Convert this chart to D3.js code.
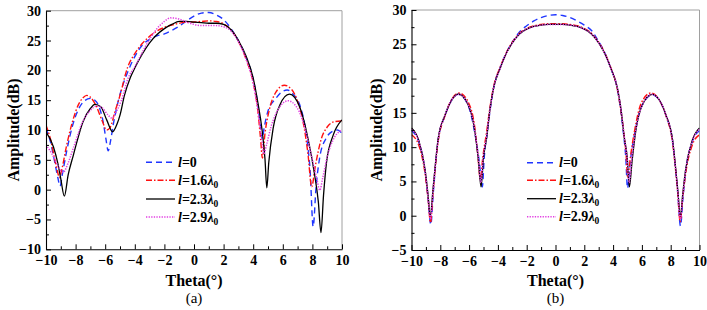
<!DOCTYPE html>
<html>
<head>
<meta charset="utf-8">
<script src="https://cdn.jsdelivr.net/npm/d3@7"></script>
<style>
  html, body { margin: 0; padding: 0; background: #fff; }
  svg { display: block; }
  svg text { font-family: "Liberation Serif", "DejaVu Serif", serif !important; }
</style>
</head>
<body>
<svg id="chart" width="707" height="310"></svg>
<script>
// ---------------- DATA ----------------
const thetaTicks = [-10, -8, -6, -4, -2, 0, 2, 4, 6, 8, 10];
const thetaMinor = [-9, -7, -5, -3, -1, 1, 3, 5, 7, 9];
const ampTicksA = [-10, -5, 0, 5, 10, 15, 20, 25, 30];
const ampMinorA = [-7.5, -2.5, 2.5, 7.5, 12.5, 17.5, 22.5, 27.5];
const ampTicksB = [-5, 0, 5, 10, 15, 20, 25, 30];
const ampMinorB = [-2.5, 2.5, 7.5, 12.5, 17.5, 22.5, 27.5];

const legendLabels = [
  { l: "l", rest: "=0", lam: false },
  { l: "l", rest: "=1.6", lam: true },
  { l: "l", rest: "=2.3", lam: true },
  { l: "l", rest: "=2.9", lam: true }
];

// Panel (a): [theta (deg), amplitude (dB)]
const a_l0 = [[-10,10.3],[-9.7,8],[-9.4,4.5],[-9.2,2],[-9.05,0.6],[-8.9,2.5],[-8.6,6.5],[-8.2,10.8],[-7.8,13.5],[-7.4,14.9],[-7.0,15.3],[-6.7,15.0],[-6.4,13.8],[-6.15,11.5],[-5.95,8.5],[-5.8,6.5],[-5.65,8],[-5.45,11],[-5.2,14],[-4.9,16.8],[-4.5,19.6],[-4.0,22.3],[-3.5,24.2],[-3.0,25.2],[-2.5,25.8],[-2.0,26.1],[-1.5,26.7],[-1.0,27.4],[-0.5,28.3],[0,29.1],[0.5,29.6],[1.0,29.7],[1.5,29.3],[2.0,28.5],[2.5,27.0],[3.0,25.0],[3.5,22.3],[4.0,18.5],[4.3,14.5],[4.5,10.5],[4.6,8.5],[4.75,10.5],[5.0,13.2],[5.5,15.2],[6.0,16.5],[6.3,16.7],[6.7,16.0],[7.2,13.8],[7.6,9.0],[7.85,3],[8.05,-6.2],[8.25,0.5],[8.5,5.5],[8.9,8.5],[9.3,9.7],[9.7,10.0],[10,9.4]];
const a_l16 = [[-10,10.8],[-9.7,8.5],[-9.4,5],[-9.2,2.8],[-9.1,2],[-8.95,3.2],[-8.6,7.5],[-8.2,11.5],[-7.8,14.3],[-7.5,15.4],[-7.25,15.8],[-7.0,15.5],[-6.6,14.0],[-6.2,11.5],[-5.9,10.0],[-5.65,10.5],[-5.35,13],[-5.0,15.8],[-4.5,20.4],[-4.0,22.8],[-3.5,24.5],[-3.0,25.7],[-2.5,26.6],[-2.0,27.2],[-1.5,27.6],[-1.0,27.9],[-0.5,28.1],[0,28.1],[0.5,28.2],[1.0,28.3],[1.5,28.2],[2.0,27.8],[2.5,26.8],[3.0,24.9],[3.5,22.0],[4.0,18.0],[4.3,13.5],[4.5,8.5],[4.62,5.3],[4.8,9.5],[5.1,13.5],[5.5,16.2],[6.1,17.5],[6.6,16.8],[7.0,14.8],[7.4,11],[7.7,6],[7.95,0.5],[8.2,4],[8.6,8.5],[9.0,10.5],[9.5,11.4],[10,11.5]];
const a_l23 = [[-10,9.7],[-9.5,7.2],[-9.2,4.4],[-9.0,1.8],[-8.76,-1.1],[-8.5,2.5],[-8.15,5.8],[-8.0,7.2],[-7.5,11.4],[-7.0,13.6],[-6.7,14.3],[-6.3,13.9],[-5.9,11.7],[-5.5,9.7],[-5.2,11],[-5.0,12.5],[-4.7,15.8],[-4.3,18.8],[-4.0,20.4],[-3.5,22.7],[-3.0,24.6],[-2.5,26.0],[-2.0,27.0],[-1.5,27.7],[-1.0,28.2],[-0.5,28.2],[0,28.1],[0.5,28.0],[1.0,27.9],[1.5,27.9],[2.0,27.7],[2.5,26.8],[3.0,25.0],[3.5,22.5],[4.0,18.7],[4.3,14.8],[4.6,10],[4.8,5],[4.92,0.3],[5.05,4.5],[5.35,10.3],[5.8,14.2],[6.45,16.0],[7.15,13.8],[7.7,8.6],[8.15,2.5],[8.4,-2],[8.58,-7.2],[8.75,-1],[8.95,4.5],[9.4,9.1],[10,11.7]];
const a_l29 = [[-10,7.5],[-9.6,6.0],[-9.2,4.0],[-8.85,2.9],[-8.5,4.5],[-8.15,7.0],[-7.5,11.5],[-7.0,13.3],[-6.6,14.0],[-6.25,13.8],[-5.8,12.5],[-5.55,12.0],[-5.2,13.3],[-4.9,15.0],[-4.45,18.7],[-4.0,20.6],[-3.5,23.0],[-3.0,25.2],[-2.5,27.0],[-2.0,28.2],[-1.6,28.8],[-1.0,28.6],[-0.5,28.1],[0,27.7],[0.5,27.5],[1.0,27.5],[1.5,27.5],[2.0,27.3],[2.5,26.6],[3.0,24.8],[3.5,22.0],[4.0,17.8],[4.3,13.5],[4.55,9],[4.72,6.0],[4.9,7.5],[5.2,10.5],[5.7,13.5],[6.35,14.9],[7.0,13.6],[7.5,10.3],[8.0,5.0],[8.3,1.8],[8.5,-0.1],[8.7,2],[9.0,5.5],[9.5,8.8],[10,10.0]];

// Panel (b)
const b_l0 = [[-10,12.4],[-9.5,10.8],[-9.05,6.3],[-8.85,2.5],[-8.66,-1.3],[-8.48,3.5],[-8.15,11.0],[-7.67,14.6],[-7.2,16.9],[-6.74,17.7],[-6.05,16.0],[-5.6,12.0],[-5.3,8.0],[-5.08,4.2],[-4.95,8.5],[-4.75,12],[-4.5,16],[-4.3,18.6],[-3.84,21.6],[-3.5,23.4],[-3.0,25.3],[-2.5,26.8],[-2.0,27.7],[-1.5,28.4],[-1.0,28.9],[-0.5,29.2],[0,29.3],[0.5,29.2],[1.0,28.9],[1.5,28.4],[2.0,27.8],[2.5,27.0],[3.0,25.4],[3.5,23.4],[3.84,21.5],[4.3,18.4],[4.5,15.8],[4.72,12],[4.88,8.5],[5.0,4.0],[5.2,8],[5.5,12],[5.95,15.8],[6.71,17.6],[7.2,16.9],[7.67,14.6],[8.12,11.0],[8.48,3.5],[8.68,-1.5],[8.85,2.5],[9.03,6.3],[9.5,10.8],[10,12.4]];
const b_l16 = [[-10,11.8],[-9.5,10.3],[-9.05,6.0],[-8.85,2.5],[-8.68,-1.0],[-8.5,3.5],[-8.15,10.8],[-7.67,14.6],[-7.2,17.0],[-6.68,17.9],[-6.0,16.3],[-5.6,12.8],[-5.4,9.0],[-5.22,5.3],[-5.05,8.5],[-4.8,12],[-4.55,15.8],[-4.3,18.8],[-3.84,21.7],[-3.5,23.4],[-3.0,25.3],[-2.5,26.6],[-2.0,27.3],[-1.5,27.7],[-1.0,27.9],[-0.5,28.0],[0,28.0],[0.5,28.0],[1.0,27.9],[1.5,27.7],[2.0,27.3],[2.5,26.6],[3.0,25.3],[3.5,23.4],[3.84,21.6],[4.3,18.4],[4.55,15.2],[4.75,12],[4.9,9],[5.02,5.5],[5.2,8.5],[5.5,12.5],[5.95,16.4],[6.62,17.9],[7.2,16.9],[7.67,14.6],[8.12,10.8],[8.48,3.5],[8.66,-0.9],[8.83,2.5],[9.03,6.0],[9.5,10.3],[10,11.8]];
const b_l23 = [[-10,12.8],[-9.5,11.0],[-9.05,6.6],[-8.85,3],[-8.7,-0.1],[-8.5,4],[-8.15,11.2],[-7.67,14.7],[-7.2,16.9],[-6.74,17.75],[-6.05,16.1],[-5.6,12.3],[-5.35,8],[-5.17,4.2],[-5.0,8.5],[-4.77,11.5],[-4.55,15.5],[-4.3,18.6],[-3.84,21.5],[-3.5,23.3],[-3.0,25.2],[-2.5,26.5],[-2.0,27.2],[-1.5,27.6],[-1.0,27.8],[-0.5,27.9],[0,27.9],[0.5,27.9],[1.0,27.8],[1.5,27.6],[2.0,27.2],[2.5,26.5],[3.0,25.2],[3.5,23.3],[3.84,21.5],[4.3,18.6],[4.55,15.5],[4.77,11.5],[4.98,8.5],[5.13,4.2],[5.32,8],[5.57,12.3],[6.02,16.1],[6.71,17.7],[7.2,16.9],[7.67,14.7],[8.12,11.2],[8.48,4],[8.68,-0.1],[8.83,3],[9.03,6.6],[9.5,11.0],[10,12.8]];
const b_l29 = [[-10,12.6],[-9.5,10.9],[-9.05,6.5],[-8.85,2.8],[-8.69,-0.5],[-8.5,3.8],[-8.15,11.1],[-7.67,14.7],[-7.2,16.9],[-6.72,17.7],[-6.05,16.1],[-5.6,12.4],[-5.35,8.3],[-5.18,4.8],[-5.02,8.5],[-4.78,11.6],[-4.55,15.5],[-4.3,18.6],[-3.84,21.5],[-3.5,23.3],[-3.0,25.2],[-2.5,26.5],[-2.0,27.2],[-1.5,27.6],[-1.0,27.8],[-0.5,27.9],[0,27.9],[0.5,27.9],[1.0,27.8],[1.5,27.6],[2.0,27.2],[2.5,26.5],[3.0,25.2],[3.5,23.3],[3.84,21.5],[4.3,18.6],[4.55,15.5],[4.77,11.6],[4.97,8.5],[5.12,4.8],[5.3,8.3],[5.57,12.4],[6.02,16.1],[6.7,17.7],[7.2,16.9],[7.67,14.7],[8.12,11.1],[8.48,3.8],[8.67,-0.5],[8.83,2.8],[9.03,6.5],[9.5,10.9],[10,12.6]];

// ---------------- STYLES ----------------
const FONT = '"Liberation Serif", "DejaVu Serif", serif';
const seriesStyle = [
  { color: "#1f35ff", dash: "6,4", width: 1.4 },
  { color: "#ff1010", dash: "6,2,1.5,2", width: 1.4 },
  { color: "#000000", dash: null, width: 1.3 },
  { color: "#e23fe2", dash: "1.3,1.3", width: 1.5 }
];

const svg = d3.select("#chart");
svg.append("rect").attr("width", 707).attr("height", 310).attr("fill", "#fff");

function drawPanel(cfg) {
  const x = d3.scaleLinear().domain([-10, 10]).range([cfg.left, cfg.right]);
  const y = d3.scaleLinear().domain(cfg.yDomain).range([cfg.bottom, cfg.top]);
  const g = svg.append("g").attr("font-family", FONT);

  g.append("path")
    .attr("d", `M${cfg.left},${cfg.top}H${cfg.right}V${cfg.bottom}`)
    .attr("fill", "none").attr("stroke", "#a0a0a0").attr("stroke-width", 1);

  const clipId = "clip" + cfg.name;
  svg.append("clipPath").attr("id", clipId).append("rect")
    .attr("x", cfg.left).attr("y", cfg.top - 2)
    .attr("width", cfg.right - cfg.left).attr("height", cfg.bottom - cfg.top + 2);
  const line = d3.line().x(d => x(d[0])).y(d => y(d[1])).curve(d3.curveMonotoneX);
  const cg = g.append("g").attr("clip-path", `url(#${clipId})`);
  cfg.series.forEach((s, i) => {
    const st = seriesStyle[i];
    cg.append("path").datum(s).attr("d", line)
      .attr("fill", "none").attr("stroke", st.color)
      .attr("stroke-width", st.width)
      .attr("stroke-dasharray", st.dash)
      .attr("stroke-linejoin", "round");
  });

  g.append("g").attr("transform", `translate(0,${cfg.bottom})`)
    .call(d3.axisBottom(x).tickValues(thetaTicks).tickSize(-5).tickSizeOuter(0).tickPadding(6).tickFormat(d3.format("d")));
  g.append("g").attr("transform", `translate(0,${cfg.bottom})`)
    .call(d3.axisBottom(x).tickValues(thetaMinor).tickSize(-3).tickSizeOuter(0).tickFormat(""))
    .select(".domain").remove();
  g.append("g").attr("transform", `translate(${cfg.left},0)`)
    .call(d3.axisLeft(y).tickValues(cfg.yTicks).tickSize(-5).tickSizeOuter(0).tickPadding(5).tickFormat(d3.format("d")));
  g.append("g").attr("transform", `translate(${cfg.left},0)`)
    .call(d3.axisLeft(y).tickValues(cfg.yMinor).tickSize(-3).tickSizeOuter(0).tickFormat(""))
    .select(".domain").remove();

  g.selectAll("g").attr("font-family", FONT);
  g.selectAll(".tick line").attr("stroke", "#000").attr("stroke-width", 1);
  g.selectAll(".domain").attr("stroke", "#000").attr("stroke-width", 1.1);
  g.selectAll(".tick text")
    .attr("font-family", FONT)
    .attr("font-weight", "bold").attr("font-size", 14).attr("fill", "#000");

  g.append("text")
    .attr("transform", `translate(${cfg.yTitleX},${(cfg.top + cfg.bottom) / 2}) rotate(-90)`)
    .attr("text-anchor", "middle").attr("font-weight", "bold").attr("font-size", 16)
    .attr("font-family", FONT)
    .text("Amplitude(dB)");
  g.append("text")
    .attr("x", (cfg.left + cfg.right) / 2).attr("y", 286)
    .attr("text-anchor", "middle").attr("font-weight", "bold").attr("font-size", 16)
    .attr("font-family", FONT)
    .text("Theta(°)");
  g.append("text")
    .attr("x", (cfg.left + cfg.right) / 2).attr("y", 303)
    .attr("text-anchor", "middle").attr("font-size", 15)
    .attr("font-family", FONT)
    .text(cfg.caption);

  const lg = g.append("g");
  cfg.legendRows.forEach((ry, i) => {
    const st = seriesStyle[i];
    lg.append("line")
      .attr("x1", cfg.legendX).attr("x2", cfg.legendX + 29)
      .attr("y1", ry).attr("y2", ry)
      .attr("stroke", st.color).attr("stroke-width", st.width)
      .attr("stroke-dasharray", st.dash);
    const lab = legendLabels[i];
    const t = lg.append("text")
      .attr("x", cfg.legendX + 32).attr("y", ry + 4.5)
      .attr("font-family", FONT)
      .attr("font-weight", "bold").attr("font-size", 14);
    t.append("tspan").attr("font-style", "italic").text(lab.l);
    t.append("tspan").text(lab.rest);
    if (lab.lam) {
      t.append("tspan").attr("font-style", "italic").text("λ");
      t.append("tspan").attr("font-size", 9.5).attr("dy", 3).text("0");
    }
  });
}

drawPanel({
  name: "A", left: 46, right: 342, top: 10.7, bottom: 249.3,
  yDomain: [-10, 30], yTicks: ampTicksA, yMinor: ampMinorA,
  series: [a_l0, a_l16, a_l23, a_l29],
  yTitleX: 19, caption: "(a)",
  legendX: 146, legendRows: [162.3, 180.3, 199, 217]
});
drawPanel({
  name: "B", left: 411.5, right: 699.5, top: 10, bottom: 250,
  yDomain: [-5, 30], yTicks: ampTicksB, yMinor: ampMinorB,
  series: [b_l0, b_l16, b_l23, b_l29],
  yTitleX: 382, caption: "(b)",
  legendX: 527, legendRows: [162.7, 180.3, 198.7, 216.7]
});
</script>
</body>
</html>
